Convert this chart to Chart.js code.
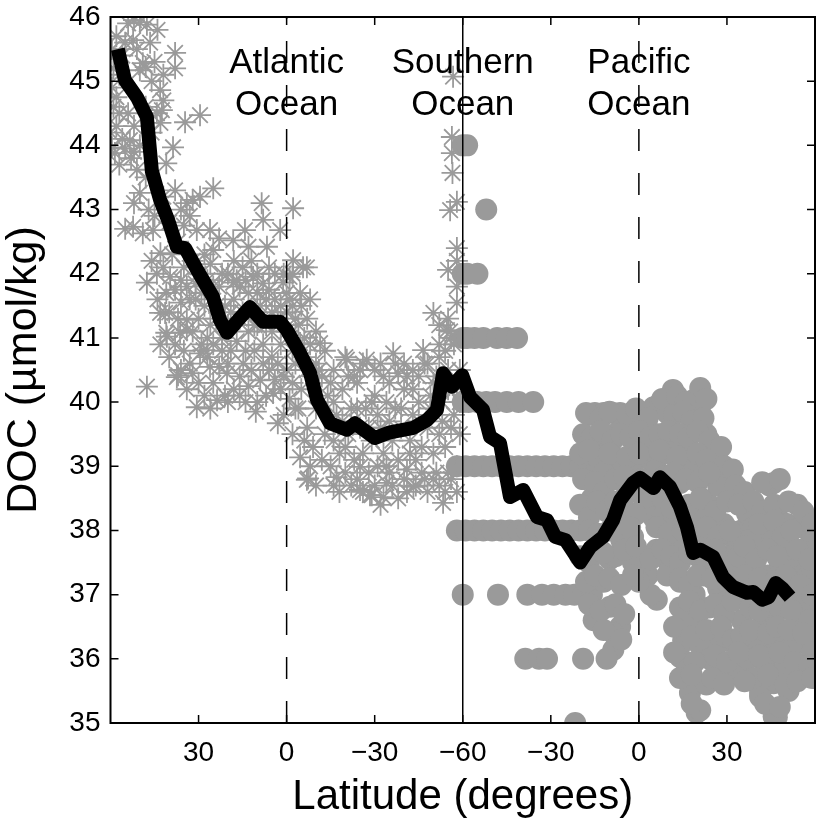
<!DOCTYPE html>
<html>
<head>
<meta charset="utf-8">
<script src="https://cdn.jsdelivr.net/npm/chart.js@4.4.1/dist/chart.umd.min.js"></script>
<style>
  html, body { margin: 0; padding: 0; background: #fff; overflow: hidden; }
  #wrap { width: 820px; height: 825px; }
  canvas { display: block; }
</style>
</head>
<body>
<div id="wrap"><canvas id="docChart" width="820" height="825"></canvas></div>
<script>
// x is distance along the section: 0 = 60N Atlantic, 120 = 60S, 240 = 60N Pacific
const xTickValues = [30, 60, 90, 120, 150, 180, 210];
const xTickLabels = ['30', '0', '\u221230', '\u221260', '\u221230', '0', '30'];
const oceanLabels = [
  { x: 60, lines: ['Atlantic', 'Ocean'] },
  { x: 120, lines: ['Southern', 'Ocean'] },
  { x: 180, lines: ['Pacific', 'Ocean'] }
];
const equatorLines = [60, 180];
const southLine = [120];

// Atlantic samples (asterisks)
const atlanticPoints = [
  [0.5,45.5],[2,45.7],[6,45.9],[8,45.95],[10,45.92],[12.4,45.88],[7.7,45.64],[13.5,45.6],[4,45.4],[1,45.2],
  [3,45.1],[11,45.28],[12,45.22],[10,45.17],[22,45.44],[22,45.2],[0.5,44.9],[2,44.75],[1,44.6],[3,44.5],
  [16.9,44.86],[18,44.7],[17.5,44.55],[15.8,44.5],[17,44.35],[25.4,44.36],[30.5,44.47],[0,44.2],[0.5,43.97],[1.5,43.88],
  [6.6,44.08],[5,43.95],[7,43.8],[9,43.62],[8,43.9],[14,44.2],[21.3,43.97],[19,43.72],[12,43.5],[10,43.26],
  [26,43.1],[30.5,43.2],[35,43.33],[24,43.0],[27,42.9],[28,43.15],[25,42.75],
  [2,44.3],[4,44.1],[6,44.5],[3,43.7],[8,44.3],[10,44.0],[12,44.6],[14,45.0],[15,45.3],[18,45.1],
  [5,45.6],[9,45.5],[16,45.8],[5,42.7],[8,43.1],[13,43.0],[15,42.9],[18,43.2],[20,42.8],[22,43.3],[23,42.5],
  [7.7,42.73],[11,42.63],[14.5,42.68],[17,42.32],[29.4,42.68],[33.9,42.68],[35,42.37],[32,42.3],[37,42.55],
  [41.8,42.52],[45.8,42.68],[47,42.42],[51.5,43.1],[52,42.84],[53.3,42.42],[57.8,42.68],[62.2,43.02],[62.2,42.21],[65.6,42.1],
  [12.4,41.86],[15.8,42.0],[20.3,41.95],[19,41.7],[22,41.75],[24,41.9],[27,41.6],[16.9,41.39],[19,41.08],[23.7,41.08],
  [26,41.28],[28,41.1],[30,41.3],[32,41.5],[29,41.6],[41.8,41.86],[44,41.8],[46,41.9],[48.6,41.95],[50,41.7],
  [52,41.85],[54,41.75],[56,41.6],[58.8,41.86],[60,41.7],[61,41.95],[62,41.5],[64.6,41.7],[66.9,42.1],[63,41.3],
  [60,41.4],[57,41.3],[55,41.1],[53,41.2],[50,41.2],[48,41.4],[45,41.4],[42,41.6],[40,41.2],[38,41.0],
  [35,40.9],[33,41.0],[36,41.5],[47,41.1],[43,40.95],[58,40.9],[62,40.8],[66,41.0],[68,40.9],
  [14,42.2],[16,41.6],[18,42.1],[20,41.4],[21,42.3],[23,41.3],[24,41.55],[25,42.1],[26,41.8],[28,42.2],
  [29,41.85],[30,42.0],[31,41.7],[33,41.9],[34,42.15],[35,41.8],[36,41.3],[37,41.8],[38,42.0],[39,41.5],
  [31,40.9],[33,40.7],[34,41.2],[22,40.9],[20,40.7],[17,40.9],[24,40.5],[26,40.2],[30,40.3],[32,40.1],
  [34,39.9],[38,40.8],[39,40.1],
  [40,42.0],[41,41.4],[42,42.2],[43,41.9],[44,41.3],[45,42.1],[46,40.8],[47,41.7],[48,42.2],[49,41.2],
  [50,42.0],[51,41.5],[52,40.9],[53,41.6],[54,42.1],[55,41.4],[56,42.0],[57,40.6],[58,41.5],[59,42.0],
  [60,41.1],[61,41.6],[62,42.0],[63,40.6],[64,41.2],[65,41.5],[66,40.7],[67,41.3],[68,41.6],[69,40.4],
  [70,41.1],[71,40.5],[73,40.8],[75,40.3],[44,40.4],[46,40.0],[50,40.0],[53,40.1],[41,40.8],[49,40.8],
  [55,40.7],[59,40.4],[62,40.3],[64,39.9],[66,39.4],[68,39.0],[70,38.7],
  [30.5,40.76],[33.9,40.55],[37,40.55],[40,40.6],[45.2,40.6],[48,40.5],[12.4,40.24],[22.6,40.39],[23,40.42],[28,40.45],
  [31.7,40.81],[39.7,40.45],[51,40.34],[55.4,40.14],[29.4,39.92],[36.3,40.03],[40,40.0],[49.5,39.85],[57,39.67],[18.6,41.39],
  [19.2,41.02],[26,41.12],[25,40.8],[27,40.6],[35,40.3],[42,40.2],[44,40.1],[47,40.25],[52,40.6],[54,40.5],
  [56,40.35],[58,40.2],[60,40.5],[61,40.05],[59,39.8],
  [64.6,40.92],[71.4,40.92],[80.5,40.66],[87.3,40.66],[96.3,40.76],[100,40.6],[106.5,40.81],[80,40.7],[85,40.5],[92,40.6],
  [98,40.45],[103,40.5],[108,40.6],[112,40.7],[115,40.5],[118,40.3],[64.6,39.14],[67.3,38.81],[77,38.83],[85,38.99],
  [89,38.55],[93,38.52],[101,38.6],[85,38.63],[88.4,38.55],[94,38.74],[103.2,38.68],[113.3,38.43],[66.9,38.79],[62,39.5],
  [63,39.9],[65,40.2],[67,39.6],[69,39.3],[70,39.9],[72,39.1],[73,39.5],[74,40.1],[75,39.0],[76,39.4],
  [77,39.8],[78,39.2],[79,40.2],[80,38.9],[81,39.5],[82,39.9],[83,39.1],[84,40.3],[85,39.6],[86,39.2],
  [87,39.9],[88,38.9],[89,39.4],[90,40.1],[91,39.0],[92,39.6],[93,39.2],[94,40.0],[95,38.9],[96,39.4],
  [97,39.9],[98,39.1],[99,39.6],[100,40.2],[101,38.95],[102,39.4],[103,39.8],[104,39.1],[105,40.0],[106,39.3],
  [107,38.8],[108,39.6],[109,40.1],[110,39.2],[111,38.9],[112,39.5],[113,40.0],[114,39.3],[115,38.9],[116,39.6],
  [117,40.2],[118,39.0],[119,39.5],[119,40.0],[72,40.4],[76,40.5],[83,40.4],[90,40.5],[95,40.3],[67,40.5],
  [70,40.6],[105,40.4],[110,40.3],[114,40.8],
  [76,38.7],[78,38.6],[80,39.3],[82,38.7],[84,38.8],[86,38.6],[88,39.6],[90,38.7],[92,38.4],[94,39.0],
  [96,38.7],[98,38.5],[100,38.8],[102,39.2],[104,38.7],[106,38.9],[108,38.6],[110,38.8],[112,38.7],[114,38.6],
  [116,38.8],[118,38.6],[76,40.0],[79,39.7],[81,40.4],[84,39.9],[86,40.6],[89,40.0],[91,39.8],[93,40.4],
  [95,39.7],[97,40.6],[99,39.9],[101,40.4],[103,40.2],[105,39.7],[107,40.6],[109,39.9],[111,40.4],[113,39.7],
  [115,40.2],[117,39.8],[119,40.5],[116,41.0],[112,41.2],
  [116.7,45.07],[116.3,44.13],[116.3,43.88],[116.5,43.57],[118,43.12],[115.7,42.99],[118,42.4],[115,42.06],[118,41.55],[110,41.39],
  [115,41.3],[115.7,41.1],[118,42.2],[114.6,41.12],[118,41.8],[117,40.9],[112,40.9]
];

// Southern / Pacific samples (filled circles)
const pacificPoints = [
  [120,44],[121.5,44],[128,43],[120,42],[121.5,42],[125,42],
  [120,41],[121.5,41],[124,41],[127,41],[131.7,41],[135,41],[138.5,41],
  [120,40],[122,40],[125,40],[128,40],[131,40],[135,40],[139,40],[144,40],
  [118,39],[121,39],[124,39],[127,39],[130,39],[133,39],[136,39],[139,39],[142,39],[145,39],
  [148,39],[151,39],[154,39],[157,39],[160,39],[163,39],[166,39],[169,39],[172,39],[175,39],[178,39],
  [118,38],[121,38],[124,38],[127,38],[130,38],[133,38],[136,38],[139,38],[142,38],[145,38],
  [148,38],[151,38],[154,38],[157,38],[160,38],
  [120,37],[132,37],[142,37],[147,37],[151,37],[155,37],[158,37],[161,37],[164,37],
  [141.3,36],[146,36],[148.7,36],[161,36],[158.3,35],
  [162,39.83],[165,39.83],[168,39.83],[171,39.83],
  [165.8,39.14],[162.3,38.36],[164,38.5],[166.8,37.7],[170,37.55],[172,37.6],[164.6,36.6],[170.2,36.81],[173.6,36.5],[171.3,36.14],
  [171.3,36.4],[168,37.2],[173,38.1],[176,38.6],[172.5,39.52],[173.6,39.83],[169,39.3],[175,39.5],[168,38.9],
  [177.5,39.83],[180,39.7],[182.8,39.61],[185,39.92],[187.2,39.98],[189.6,39.83],[191.6,40.19],[188,40.05],[181,39.3],[184,39.1],
  [186,38.95],[190,39.2],[193,39.4],[179,38.6],[182,38.4],[185,38.2],[188,38.5],[191,38.6],[194,38.74],[178,37.9],
  [181,37.6],[183,37.3],[186,37.7],[189.6,37.54],[189.6,37.3],[192,37.8],[186.1,36.92],[184,37.0],[180,37.2],[178,37.5],
  [194,37.2],[193,38.1],
  [198.5,40.03],[200.9,40.22],[200.9,39.83],[196.4,39.2],[198.5,38.99],[203,39.5],[206.6,39.12],[210,38.83],[203,38.47],[207,38.7],
  [212,38.47],[200,38.2],[197,37.9],[205,37.9],[209,38.1],[213,37.8],[196.4,36.65],[195.1,36.29],[196.4,35.87],[197.4,35.47],
  [199.7,35.16],[200.9,35.2],[194,36.03],[196.4,36.29],[206.6,36.29],[210,36.29],[212,35.78],[213.5,35.78],[199,37.0],[202,37.3],
  [204,36.8],[207,37.1],[210,36.9],[213,37.4],[215,36.6],[198,36.6],[201,36.2],[204,36.0],[208,35.9],[203,35.6],
  [200,37.6],[211,37.6],[215,38.0],[216.8,38.27],[216.8,38.32],
  [225.9,38.74],[224.5,38.7],[219,38.05],[223.6,38.05],[228,38.16],[230.5,38.1],[235,38.05],[237.3,37.74],[237.3,37.69],[235,37.43],
  [237.3,37.12],[237.3,37.27],[237.3,36.76],[235,36.25],[235,35.87],[237.3,35.78],[229.2,36.29],[225.9,35.62],[221.3,35.47],[221.3,35.41],
  [225.9,35.1],[227,35.09],[218,37.4],[220,37.0],[222,36.5],[224,37.3],[226,36.7],[228,37.5],[230,36.9],[232,37.6],
  [234,36.5],[220,36.2],[223,35.9],[226,36.1],[229,35.8],[232,36.2],[217,36.0],[219,35.7],[231,35.5],[233,37.0],
  [236,36.9],[238,38.0],[222,37.8],[226,37.9],[230,37.7],[217,37.6],[234,38.4],[239,37.4],[239,36.4],
  [193,40.1],[196,40.0],[203,40.05],
  [163,39.8],[167,39.75],[170,39.85],[176,39.8],[179,39.9],[183,39.75],[192,39.8],[195,39.85],[198,39.7],[202,39.75],
  [161,39.5],[164,39.45],[167,39.55],[171,39.4],[174,39.5],[177,39.45],[180,39.55],[184,39.45],[187,39.5],[190,39.55],
  [194,39.5],[197,39.45],[200,39.55],[204,39.4],[208,39.3],
  [160,39.2],[163,39.25],[170,39.2],[176,39.15],[180,39.2],[187,39.25],[193,39.15],[200,39.2],[203,39.1],[209,39.0],[212,38.95],
  [161,38.8],[165,38.75],[168,38.6],[172,38.8],[175,38.85],[181,38.8],[184,38.7],[189,38.85],[192,38.9],[196,38.8],
  [200,38.75],[204,38.9],[213,38.7],[216,38.6],[222,38.75],[228,38.8],
  [160,38.4],[163,38.2],[166,38.45],[169,38.3],[172,38.45],[176,38.3],[179,38.25],[188,38.2],[191,38.35],[197,38.4],
  [201,38.5],[206,38.3],[210,38.45],[214,38.4],[219,38.45],[222,38.3],[226,38.4],[231,38.45],[236,38.3],
  [163,38.0],[166,37.95],[170,38.0],[174,37.85],[177,38.05],[186,38.05],[190,37.95],[195,38.0],[199,37.85],[203,38.05],
  [207,37.9],[211,38.0],[218,37.85],[221,38.1],[226,38.15],[229,37.9],[232,38.0],[239,38.1],
  [160,37.6],[163,37.5],[168,37.65],[175,37.7],[179,37.75],[184,37.55],[188,37.7],[191,37.6],[194,37.5],[197,37.65],
  [203,37.55],[206,37.7],[209,37.5],[214,37.6],[216,37.75],[220,37.55],[224,37.7],[227,37.6],[234,37.7],[238,37.55],
  [162,37.2],[165,37.3],[170,37.25],[174,37.15],[178,37.3],[194,37.25],[197,37.15],[200,37.3],[205,37.25],[210,37.2],
  [214,37.15],[216,37.3],[221,37.25],[226,37.2],[230,37.3],[235,37.15],[239,37.0],
  [163,36.85],[167,36.75],[172,36.85],[175,36.7],[194,36.8],[197,36.9],[201,36.75],[206,36.85],[209,36.7],[212,36.9],
  [218,36.8],[221,36.75],[224,36.9],[228,36.8],[232,36.75],[238,36.6],
  [168,36.45],[174,36.3],[192,36.5],[198,36.35],[203,36.45],[208,36.5],[212,36.3],[215,36.35],[218,36.45],[224,36.4],
  [227,36.5],[231,36.45],[236,36.4],[239,36.1],
  [169,36.0],[192,36.1],[199,35.95],[206,36.05],[210,35.95],[214,36.1],[221,36.05],[228,36.1],[233,35.95],[238,35.9],
  [194,35.7],[198,35.75],[205,35.7],[209,35.6],[216,35.65],[224,35.75],[230,35.6],[234,35.65],[239,35.7],
  [198,35.3],[223,35.3],[228,35.25]
];

// Running mean (thick black line)
const meanLine = [
  [2.5,45.5],[4.9,45.02],[9,44.75],[12.4,44.44],[14.1,43.6],[16.9,43.15],[19.6,42.84],[22.6,42.42],[25.4,42.4],[29.5,42.06],
  [34.9,41.64],[37.3,41.28],[39.7,41.08],[44.1,41.31],[47.5,41.48],[52,41.25],[57.8,41.25],[60.1,41.12],[64.6,40.76],[68,40.45],
  [70.4,40.03],[74.8,39.67],[80.5,39.57],[83.3,39.67],[90.1,39.44],[95.2,39.53],[103.2,39.6],[107.8,39.72],[111.2,39.88],[113.3,40.45],
  [116.3,40.24],[119.8,40.42],[122.5,40.08],[126.9,39.88],[129.3,39.46],[132.7,39.36],[136.1,38.52],[140.6,38.63],[145.3,38.21],[148.7,38.16],
  [151.5,37.9],[155,37.85],[160,37.5],[163.4,37.74],[167.8,37.9],[171.2,38.16],[173.6,38.47],[178,38.74],[180.4,38.82],[185,38.66],
  [187.2,38.83],[190.6,38.68],[194,38.37],[196.4,38.05],[198.5,37.65],[200.9,37.7],[205.3,37.59],[208.7,37.27],[212.1,37.12],[216.8,37.03],
  [219,37.04],[222,36.92],[224.2,36.96],[226.6,37.18],[228.8,37.1],[231.5,36.96]
];

const toXY = arr => arr.map(p => ({ x: p[0], y: p[1] }));
const vLine = x => [{ x: x, y: 35 }, { x: x, y: 46 }];
const FONT = '"Liberation Sans", Arial, Helvetica, sans-serif';
const GRAY = '#9a9a9a';

// frame with inward ticks, plus ocean names
const framePlugin = {
  id: 'frame',
  afterDraw(chart) {
    const { ctx, chartArea: a, scales } = chart;
    const xs = scales.x, ys = scales.y;
    const tl = 8;
    ctx.save();
    ctx.strokeStyle = '#000';
    ctx.lineWidth = 2;
    ctx.strokeRect(a.left, a.top, a.right - a.left, a.bottom - a.top);
    ctx.lineWidth = 1.5;
    ctx.beginPath();
    xTickValues.forEach(v => {
      const px = xs.getPixelForValue(v);
      ctx.moveTo(px, a.bottom); ctx.lineTo(px, a.bottom - tl);
      ctx.moveTo(px, a.top); ctx.lineTo(px, a.top + tl);
    });
    ys.ticks.forEach(t => {
      const py = ys.getPixelForValue(t.value);
      ctx.moveTo(a.left, py); ctx.lineTo(a.left + tl, py);
      ctx.moveTo(a.right, py); ctx.lineTo(a.right - tl, py);
    });
    ctx.stroke();

    ctx.fillStyle = '#000';
    ctx.font = '35px ' + FONT;
    ctx.textAlign = 'center';
    ctx.textBaseline = 'alphabetic';
    oceanLabels.forEach(o => {
      const px = xs.getPixelForValue(o.x);
      ctx.fillText(o.lines[0], px, ys.getPixelForValue(45.12));
      ctx.fillText(o.lines[1], px, ys.getPixelForValue(44.48));
    });
    ctx.restore();
  }
};

new Chart(document.getElementById('docChart'), {
  type: 'scatter',
  data: {
    datasets: [
      {
        type: 'line',
        data: toXY(meanLine),
        borderColor: '#000',
        borderWidth: 14,
        borderJoinStyle: 'round',
        borderCapStyle: 'butt',
        pointRadius: 0,
        tension: 0,
        clip: 0,
        order: 0
      },
      {
        type: 'line',
        data: vLine(southLine[0]),
        borderColor: '#000',
        borderWidth: 1.5,
        pointRadius: 0,
        order: 1
      },
      {
        type: 'line',
        data: vLine(equatorLines[0]),
        borderColor: '#000',
        borderWidth: 1.5,
        borderDash: [22, 22],
        pointRadius: 0,
        order: 1
      },
      {
        type: 'line',
        data: vLine(equatorLines[1]),
        borderColor: '#000',
        borderWidth: 1.5,
        borderDash: [22, 22],
        pointRadius: 0,
        order: 1
      },
      {
        data: toXY(pacificPoints),
        pointStyle: 'circle',
        pointRadius: 11,
        backgroundColor: GRAY,
        borderColor: GRAY,
        borderWidth: 0,
        clip: 0,
        order: 2
      },
      {
        data: toXY(atlanticPoints),
        pointStyle: 'star',
        pointRadius: 11,
        backgroundColor: 'rgba(0,0,0,0)',
        borderColor: GRAY,
        borderWidth: 1.8,
        clip: 0,
        order: 3
      }
    ]
  },
  options: {
    responsive: false,
    animation: false,
    layout: { autoPadding: false, padding: { top: 17, right: 5, bottom: 0, left: 0 } },
    plugins: {
      legend: { display: false },
      tooltip: { enabled: false }
    },
    scales: {
      x: {
        type: 'linear',
        min: 0,
        max: 240,
        grid: { display: false, drawTicks: false },
        border: { display: false },
        afterFit: s => { s.height = 102; s.paddingLeft = 0; s.paddingRight = 0; },
        afterBuildTicks: s => { s.ticks = xTickValues.map(v => ({ value: v })); },
        ticks: {
          padding: 13,
          color: '#000',
          font: { family: FONT, size: 28 },
          callback: (v, i) => xTickLabels[i]
        },
        title: {
          display: true,
          text: 'Latitude (degrees)',
          color: '#000',
          font: { family: FONT, size: 42, lineHeight: 1.2 },
          padding: { top: 0, bottom: 2 }
        }
      },
      y: {
        type: 'linear',
        min: 35,
        max: 46,
        grid: { display: false, drawTicks: false },
        border: { display: false },
        afterFit: s => { s.width = 110.5; s.paddingTop = 0; s.paddingBottom = 0; },
        ticks: {
          stepSize: 1,
          padding: 10,
          color: '#000',
          font: { family: FONT, size: 28 }
        },
        title: {
          display: true,
          text: 'DOC (\u00b5mol/kg)',
          color: '#000',
          font: { family: FONT, size: 43, lineHeight: 1.1 },
          padding: { top: 0, bottom: 0 }
        }
      }
    }
  },
  plugins: [framePlugin]
});
</script>
</body>
</html>
